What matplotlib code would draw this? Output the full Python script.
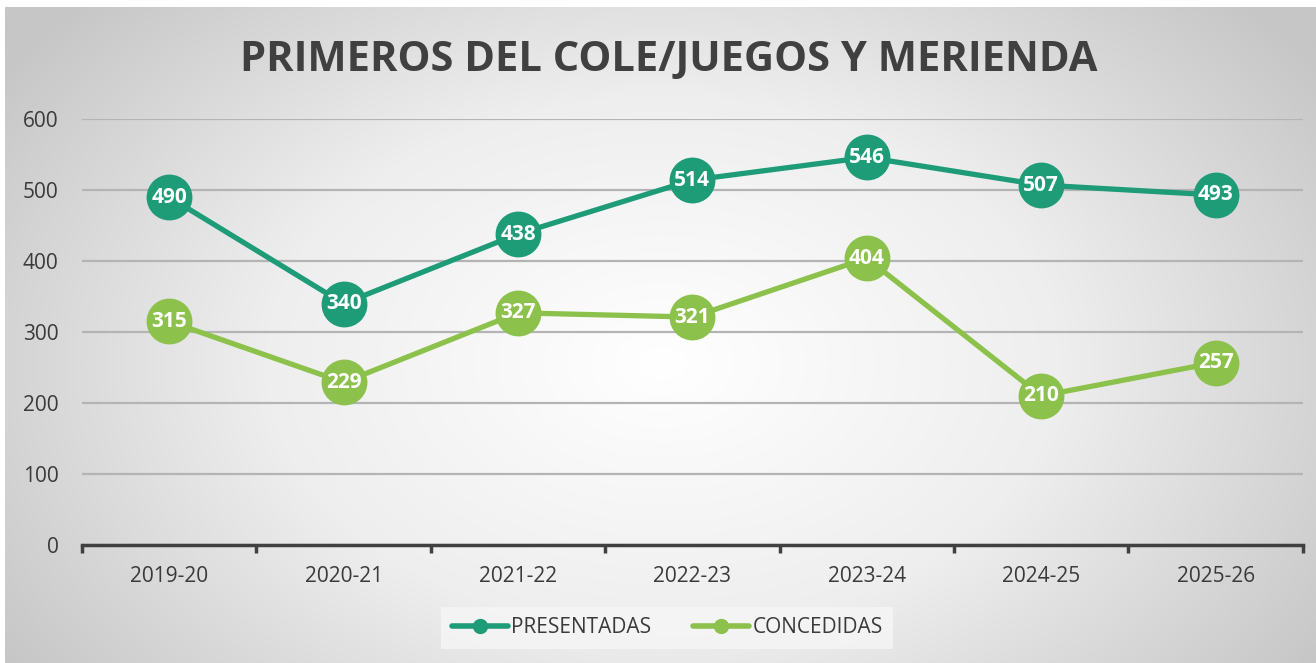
import numpy as np
import matplotlib
matplotlib.use('Agg')
import matplotlib.pyplot as plt
from matplotlib.colors import LinearSegmentedColormap

plt.rcParams['font.family'] = ['Open Sans', 'DejaVu Sans']

#data
cursos = ['2019-20', '2020-21', '2021-22', '2022-23', '2023-24', '2024-25', '2025-26']
presentadas = [490, 340, 438, 514, 546, 507, 493]
concedidas = [315, 229, 327, 321, 404, 210, 257]
titulo = 'PRIMEROS DEL COLE/JUEGOS Y MERIENDA'

c_pres = '#1e9b77'
c_conc = '#8cc14b'
c_txt = '#3a3a3a'

fig = plt.figure(figsize=(13.16, 6.63), dpi=100)

#radial gradient background
bg = fig.add_axes([0.004, 0.0, 0.996, 0.99], zorder=-10)
yy, xx = np.mgrid[0:663, 0:1316]
r = np.sqrt(((xx - 660) / 800.0) ** 2 + ((yy - 360) / 540.0) ** 2)
grad = np.clip(r, 0, 1)
cmap = LinearSegmentedColormap.from_list('bg', ['#ffffff', '#eeeeee', '#c6c6c6'])
bg.imshow(grad, cmap=cmap, aspect='auto', extent=[0, 1, 0, 1], vmin=0, vmax=1)
bg.axis('off')

ax = fig.add_axes([0.0623, 0.178, 0.9277, 0.6425])
ax.patch.set_alpha(0)
x = np.arange(len(cursos))

ax.plot(x, presentadas, color=c_pres, lw=3.8, marker='o', ms=32, solid_capstyle='round', zorder=3)
ax.plot(x, concedidas, color=c_conc, lw=3.8, marker='o', ms=32, solid_capstyle='round', zorder=3)
for i in range(len(x)):
    ax.text(x[i], presentadas[i], str(presentadas[i]), ha='center', va='center',
            color='white', fontsize=15, fontweight='bold', zorder=4)
    ax.text(x[i], concedidas[i], str(concedidas[i]), ha='center', va='center',
            color='white', fontsize=15, fontweight='bold', zorder=4)

ax.set_xlim(-0.5, len(cursos) - 0.5)
ax.set_ylim(0, 600)
ax.set_yticks(range(0, 601, 100))
ax.yaxis.grid(True, color='#b4b4b4', lw=1.6)
ax.set_axisbelow(True)
for s in ['top', 'right', 'left']:
    ax.spines[s].set_visible(False)
ax.spines['bottom'].set_color('#404040')
ax.spines['bottom'].set_linewidth(2.5)
ax.set_xticks(x)
ax.set_xticklabels(cursos)
ax.set_xticks(np.arange(-0.5, len(cursos), 1), minor=True)
ax.tick_params(axis='x', which='major', length=0, pad=15, labelsize=15, labelcolor=c_txt)
ax.tick_params(axis='x', which='minor', length=6, width=2.5, color='#404040', direction='out')
ax.tick_params(axis='y', length=0, pad=17, labelsize=15, labelcolor=c_txt)

fig.text(0.508, 0.908, titulo, ha='center', va='center', fontsize=30,
         fontweight='bold', color='#404040')

h1, = ax.plot([], [], color=c_pres, lw=4, marker='o', ms=10, solid_capstyle='round')
h2, = ax.plot([], [], color=c_conc, lw=4, marker='o', ms=10, solid_capstyle='round')
leg = fig.legend([h1, h2], ['PRESENTADAS', 'CONCEDIDAS'], loc='center',
                 bbox_to_anchor=(0.507, 0.053), ncol=2, frameon=True, fontsize=15,
                 handlelength=2.7, handletextpad=0.15, columnspacing=2.0,
                 labelcolor=c_txt, fancybox=False, borderpad=0.5)
leg.get_frame().set_facecolor('#f6f6f6')
leg.get_frame().set_edgecolor('none')
leg.get_frame().set_alpha(0.8)

fig.savefig('out.png', dpi=100)
